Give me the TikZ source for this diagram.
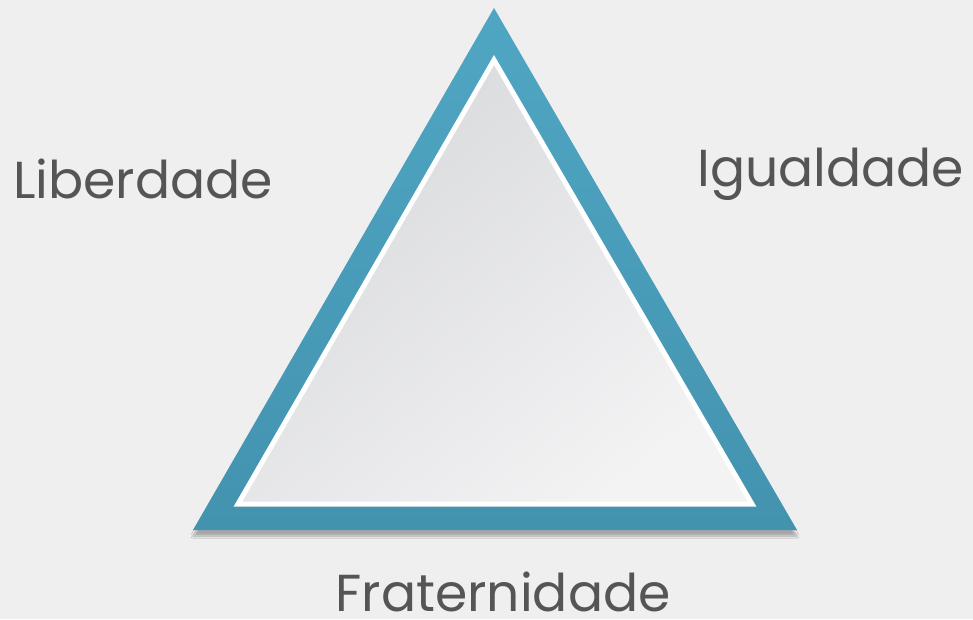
\documentclass[tikz,border=0pt]{standalone}
\usepackage{fontspec}
\setmainfont{Poppins}
\usetikzlibrary{shadows.blur}
\definecolor{bg}{HTML}{EFEFEF}
\definecolor{blueA}{HTML}{4FA6C3}
\definecolor{blueB}{HTML}{4393AF}
\definecolor{innerA}{HTML}{F3F3F4}
\definecolor{innerB}{HTML}{D8D9DC}
\definecolor{txt}{HTML}{555555}
\tikzset{
  label/.style={text=txt, font=\fontsize{52}{52}\selectfont, inner sep=0pt}
}
\begin{document}
\begin{tikzpicture}[x=1pt,y=-1pt]
\useasboundingbox (0,0) rectangle (973,619);
\fill[bg] (0,0) rectangle (973,619);
\coordinate (T) at (494,8);
\coordinate (L) at (193,530);
\coordinate (R) at (797,530);
\coordinate (iT) at (494,60);
\coordinate (iL) at (238,504);
\coordinate (iR) at (752,504);
\shade[top color=blueA, bottom color=blueB, blur shadow={shadow xshift=0pt, shadow yshift=-6pt, shadow blur steps=10, shadow opacity=30}] (T) -- (R) -- (L) -- cycle;
\draw[white, line width=5pt, line join=miter, shading=axis, left color=innerB, right color=innerA, shading angle=40]
  (iT) -- (iR) -- (iL) -- cycle;
\node[label, anchor=base west] (lib) at (13,198) {Liberdade};
\node[label, anchor=base west] (igu) at (697,186) {Igualdade};
\node[label, anchor=base] (fra) at (503,611) {Fraternidade};
\end{tikzpicture}
\end{document}
